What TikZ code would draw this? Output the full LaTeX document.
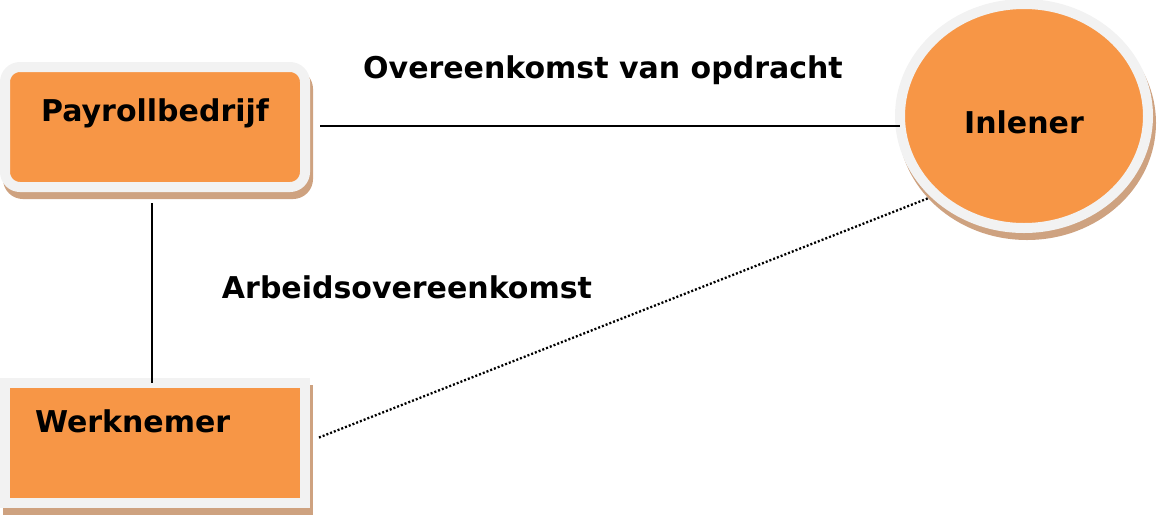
\documentclass[tikz,border=0pt]{standalone}
\usepackage{fontspec}
\setmainfont{DejaVu Sans}
\usetikzlibrary{shapes.geometric, shadows, positioning}
\definecolor{boxcolor}{RGB}{247, 150, 70}
\definecolor{rimcolor}{RGB}{242, 242, 242}
\definecolor{shadowcolor}{RGB}{206, 162, 128}
\definecolor{linecolor}{RGB}{0, 0, 0}
\tikzset{
    font=\bfseries\fontsize{30pt}{36pt}\selectfont,
    party/.style = {
        rectangle, minimum width=300pt, minimum height=120pt, outer sep=0pt,
        draw=rimcolor, line width=10pt, fill=boxcolor,
        drop shadow={shadow xshift=3pt, shadow yshift=-7pt, fill=shadowcolor, draw=shadowcolor, opacity=1}
    },
    roundparty/.style = {party, rounded corners=15pt, minimum height=120pt},
    ovalparty/.style = {party, ellipse, minimum width=248pt, minimum height=224pt},
    link/.style = {line width=2pt, draw=linecolor},
    dottedlink/.style = {link, line width=2.3pt, dash pattern=on 2pt off 2pt},
    linklabel/.style = {anchor=base, inner sep=0pt}
}
\begin{document}
\begin{tikzpicture}[x=1pt, y=-1pt]
\useasboundingbox (0,0) rectangle (1159,520);
% Parties
\node[roundparty, text height=20pt, text depth=32pt] (payroll) at (155,127) {Payrollbedrijf};
\node[party, text height=20pt, text depth=42pt, text width=240pt, inner xsep=30pt, align=left] (werknemer) at (155,443) {Werknemer};
\node[ovalparty, text height=34pt, text depth=0pt] (inlener) at (1024,116) {Inlener};
% Relations
\draw[link, shorten <=15pt] ([yshift=1pt]payroll.east) -- ([yshift=1pt]payroll.east -| inlener.west);
\draw[link, shorten <=16pt] ([xshift=-3pt]payroll.south) -- ([xshift=-3pt]werknemer.north);
\draw[dottedlink, shorten <=15pt, shorten >=8pt] (werknemer.east) -- (inlener.222);
% Labels
\node[linklabel] (opdracht) at (603,78) {Overeenkomst van opdracht};
\node[linklabel] (arbeid) at (407,298) {Arbeidsovereenkomst};
\end{tikzpicture}
\end{document}
